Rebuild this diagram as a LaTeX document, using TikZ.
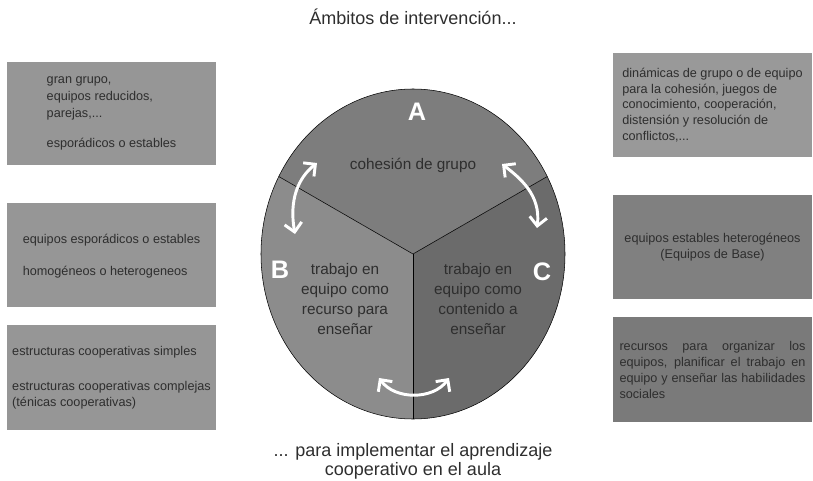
\documentclass[tikz,border=0pt]{standalone}
\usepackage{fontspec}
\setmainfont{Liberation Sans}
\usetikzlibrary{arrows.meta}

\definecolor{boxleft}{gray}{0.59}
\definecolor{boxtop}{gray}{0.6}
\definecolor{boxmid}{gray}{0.5}
\definecolor{boxlow}{gray}{0.48}
\definecolor{secA}{gray}{0.49}
\definecolor{secB}{gray}{0.55}
\definecolor{secC}{gray}{0.42}
\definecolor{txtgray}{gray}{0.18}

\tikzset{
    box/.style={fill=#1, inner sep=0pt, minimum width=156.75pt, minimum height=78pt,
        align=left, text=txtgray, font=\fontsize{9.5}{12.75}\selectfont},
    letter/.style={text=white, font=\fontsize{19}{19}\selectfont\bfseries},
    seclabel/.style={align=center, text=txtgray, font=\fontsize{11.5}{15}\selectfont},
    cycarrow/.style={draw=white, line width=2.2pt,
        {Straight Barb[length=6.5pt,width=13pt]}-{Straight Barb[length=6.5pt,width=13pt]}},
}

\begin{document}
\begin{tikzpicture}[x=0.75pt,y=0.75pt]
        \useasboundingbox (0,0) rectangle (813,480);

        \coordinate (c) at (413,226);

        % los tres ambitos
        \fill[secA] (c) -- +(28:152 and 165) arc[start angle=28, end angle=152, x radius=152, y radius=165] -- cycle;
        \fill[secB] (c) -- +(152:152 and 165) arc[start angle=152, end angle=270, x radius=152, y radius=165] -- cycle;
        \fill[secC] (c) -- +(270:152 and 165) arc[start angle=270, end angle=388, x radius=152, y radius=165] -- cycle;
        \draw (c) -- +(28:152 and 165);
        \draw (c) -- +(152:152 and 165);
        \draw (c) -- +(270:152 and 165);
        \draw (c) ellipse [x radius=152, y radius=165];

        \node[letter] (la) at (417,368) {A};
        \node[letter] (lb) at (280,210) {B};
        \node[letter] (lc) at (542,208) {C};
        \node[seclabel] (ta) at (413,315) {cohesión de grupo};
        \node[seclabel] (tb) at (345,181) {trabajo en\\equipo como\\recurso para\\enseñar};
        \node[seclabel] (tc) at (478,181) {trabajo en\\equipo como\\contenido a\\enseñar};

        % flechas de ida y vuelta
        \coordinate (l1) at (295,246);
        \coordinate (l2) at (317,317);
        \coordinate (r1) at (502,316);
        \coordinate (r2) at (537,252);
        \coordinate (b1) at (379,102);
        \coordinate (b2) at (449,102);
        \draw[cycarrow] (l1) .. controls (289,280) and (298,302) .. (l2);
        \draw[cycarrow] (r1) .. controls (520,302) and (541,285) .. (r2);
        \draw[cycarrow] (b1) .. controls (395,80) and (433,80) .. (b2);

        % cajas de la izquierda
        \node[box=boxleft, minimum height=77.25pt] (izq1) at (111.5,366.5)
            {gran grupo,\\equipos reducidos,\\parejas,...\\[10pt]esporádicos o estables};
        \node[box=boxleft] (izq2) at (111.5,225)
            {\\[-4pt]equipos esporádicos o estables\\[11pt]homogéneos o heterogeneos};
        \node[box=boxleft, minimum height=78.75pt, font=\fontsize{9.5}{11.5}\selectfont] (izq3) at (111.5,102.5)
            {estructuras cooperativas simples\\[15pt]estructuras cooperativas complejas\\(ténicas cooperativas)};

        % cajas de la derecha
        \node[box=boxtop, minimum width=149.25pt, font=\fontsize{9.5}{11.8}\selectfont] (der1) at (712.5,375)
            {dinámicas de grupo o de equipo\\para la cohesión, juegos de\\conocimiento, cooperación,\\distensión y resolución de\\conflictos,...};
        \node[box=boxmid, minimum width=149.25pt, align=center, font=\fontsize{9.5}{12}\selectfont] (der2) at (712.5,233)
            {equipos estables heterogéneos\\(Equipos de Base)};
        \node[box=boxlow, minimum width=149.25pt, minimum height=78.75pt, text width=139.5pt, align=justify,
            font=\fontsize{9.5}{12}\selectfont] (der3) at (712.5,110.5)
            {recursos para organizar los\linebreak equipos, planificar el trabajo en\linebreak equipo y enseñar las habilidades\linebreak sociales};

        \node[text=txtgray, font=\fontsize{13.5}{16}\selectfont] (titulo) at (413,463) {Ámbitos de intervención...};
        \node[text=txtgray, align=center, font=\fontsize{13.5}{14.25}\selectfont] (pie) at (413,19)
            {... para implementar el aprendizaje\\cooperativo en el aula};
    \end{tikzpicture}
\end{document}
